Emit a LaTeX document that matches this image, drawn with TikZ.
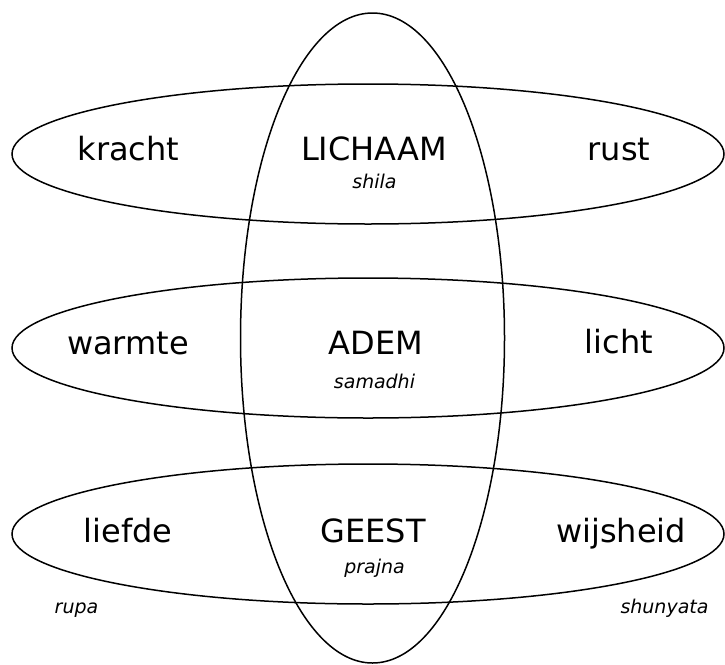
\documentclass[tikz,border=0pt]{standalone}
\usepackage{fontspec}
\setmainfont{DejaVu Sans}
\begin{document}
\begin{tikzpicture}[x=1pt,y=-1pt,
  ring/.style={draw=black,line width=1.5pt},
  word/.style={anchor=base,inner sep=0pt,font=\fontsize{32}{36}\selectfont},
  term/.style={anchor=base,inner sep=0pt,font=\fontsize{19}{22}\selectfont\itshape}]
\useasboundingbox (0,0) rectangle (725,664);

% three horizontal bands and the vertical one crossing them
\draw[ring] (368,154) ellipse [x radius=356pt, y radius=70pt];
\draw[ring] (368,348) ellipse [x radius=356pt, y radius=70pt];
\draw[ring] (368,534) ellipse [x radius=356pt, y radius=70pt];
\draw[ring] (372.5,338) ellipse [x radius=132pt, y radius=325pt];

% top band
\node[word] (kracht) at (128.5,160) {kracht};
\node[word] (lichaam) at (374,160) {LICHAAM};
\node[word] (rust) at (619,160) {rust};
\node[term] (shila) at (374.5,188.5) {shila};

% middle band
\node[word] (warmte) at (128,354) {warmte};
\node[word] (adem) at (376,354) {ADEM};
\node[word] (licht) at (619,353) {licht};
\node[term] (samadhi) at (374.5,388) {samadhi};

% bottom band
\node[word] (liefde) at (128,542) {liefde};
\node[word] (geest) at (373,542) {GEEST};
\node[word] (wijsheid) at (621,542) {wijsheid};
\node[term] (prajna) at (374.5,573) {prajna};

% corner terms
\node[term] (rupa) at (76.5,613) {rupa};
\node[term] (shunyata) at (664.5,613) {shunyata};
\end{tikzpicture}
\end{document}
